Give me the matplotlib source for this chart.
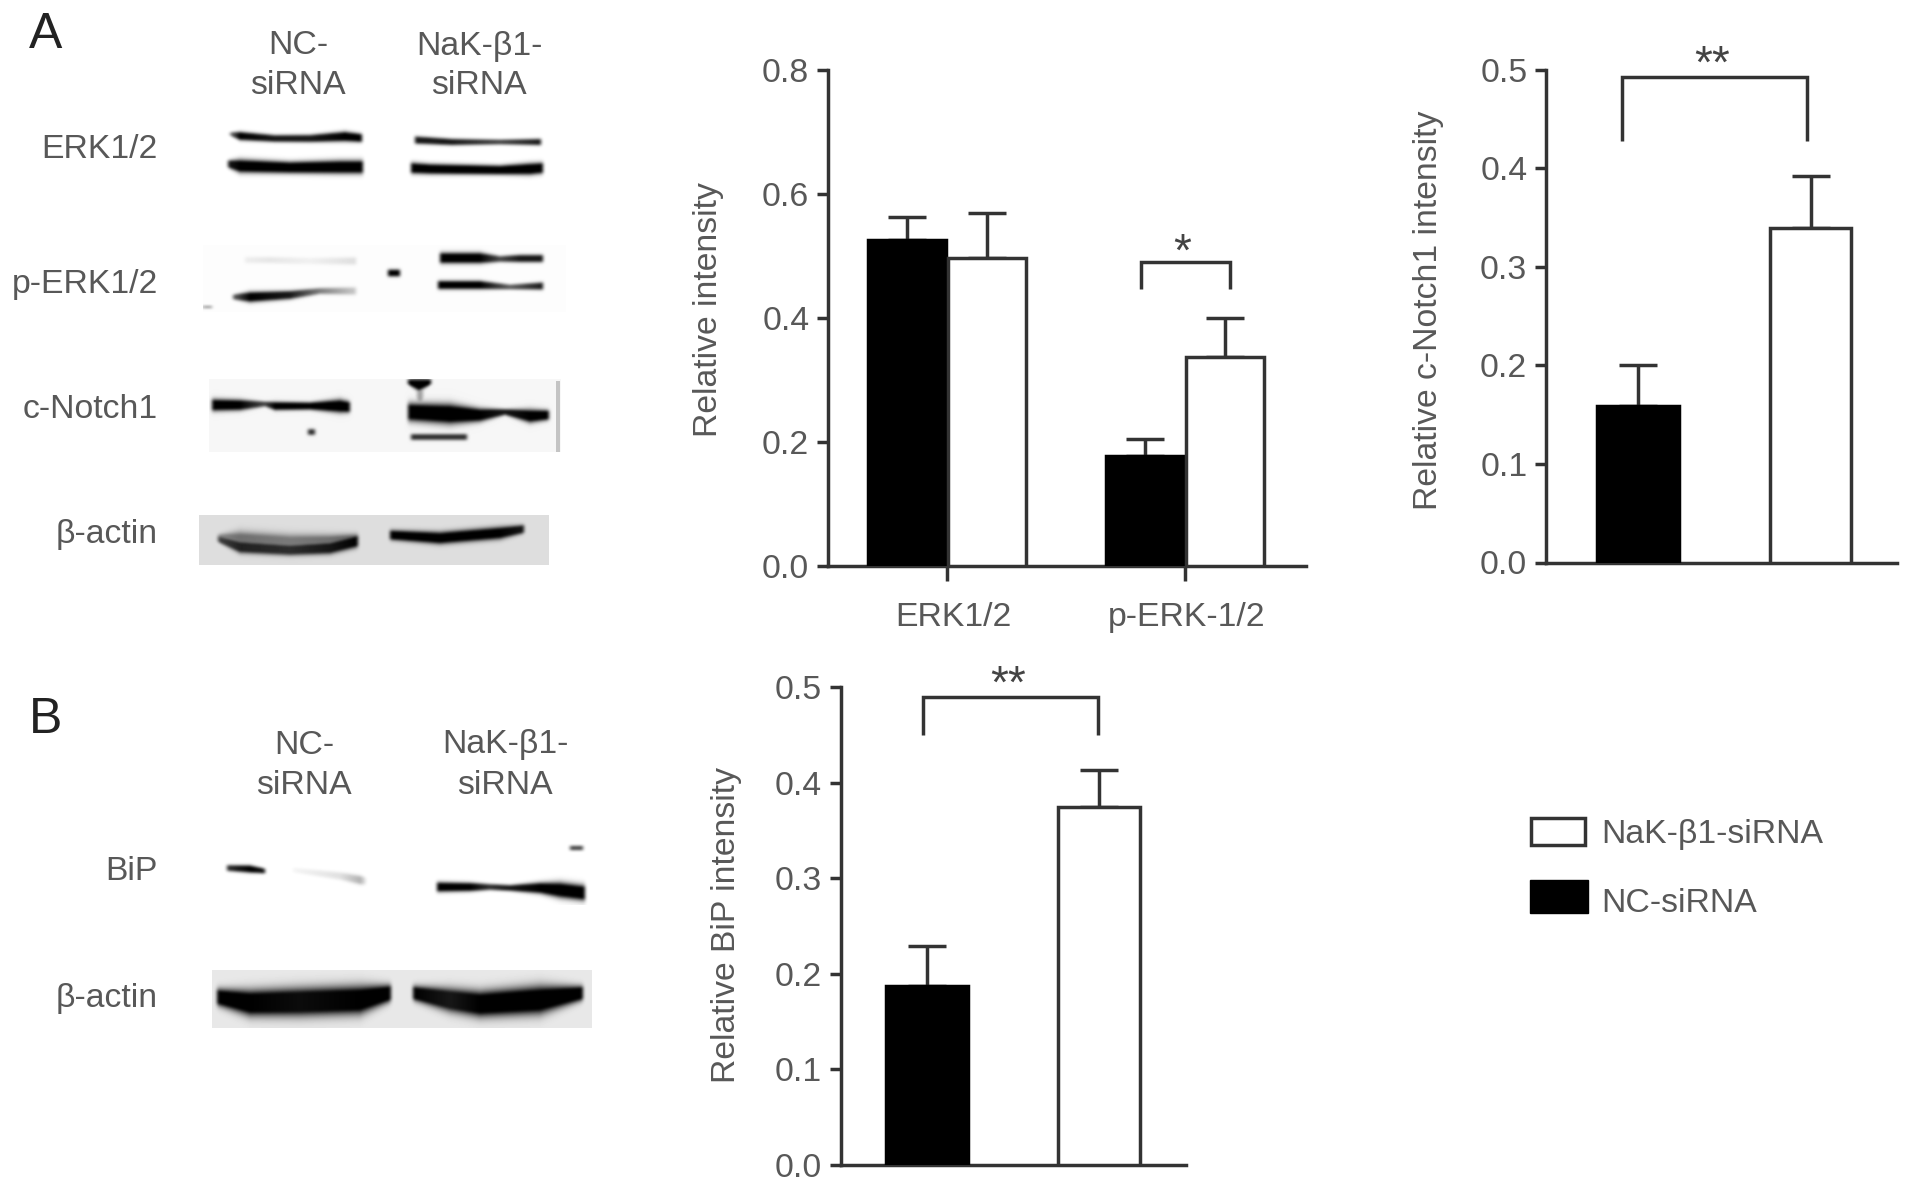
import matplotlib
matplotlib.use('Agg')
import matplotlib.pyplot as plt
import matplotlib.patches as mpatches
import matplotlib.transforms as mtransforms
import numpy as np

plt.rcParams['font.family'] = ['Liberation Sans', 'DejaVu Sans']

W, H = 1913, 1189
TEXT = '#585858'
LINE = '#333333'
FS = 24.3
LW = 2.5

# bar chart values
erk_labels = ['ERK1/2', 'p-ERK-1/2']
erk_nc = [0.526, 0.177]
erk_nc_err = [0.037, 0.028]
erk_nak = [0.496, 0.336]
erk_nak_err = [0.073, 0.063]

notch_values = [0.159, 0.339]
notch_err = [0.041, 0.053]

bip_values = [0.1875, 0.375]
bip_err = [0.042, 0.038]

# blot bands, one point is (x, y, half thickness, darkness) in reference pixels
erk_bands = [
    [(230, 134, 1.5, .5), (240, 136, 3.4, 1), (275, 138.5, 2.8, .9), (310, 138.5, 3, .9), (345, 136.5, 4, 1), (362, 138, 3.4, 1)],
    [(228, 164, 3, .9), (240, 166, 5.5, 1), (290, 167.5, 4.8, 1), (340, 167, 5.5, 1), (363, 167, 5.5, 1)],
    [(415, 140, 3, .9), (452, 142, 2.6, .9), (500, 142, 2, .7), (541, 142, 2.6, .9)],
    [(411, 168, 4.5, 1), (430, 169, 4.2, 1), (500, 170, 3.8, 1), (530, 169, 4.8, 1), (543, 168, 4.5, 1)],
]
perk_bands = [
    [(245, 260, 2.5, .06), (270, 260, 2.5, .09), (310, 261, 2.5, .05), (356, 261, 3, .12)],
    [(233, 297, 2, .6), (250, 297, 4.2, 1), (290, 295, 3.4, .9), (320, 291, 2.4, .5), (356, 291, 3, .2)],
    [(388, 273, 2.8, 1), (400, 273, 2.8, 1)],
    [(440, 258, 4.4, 1), (480, 258, 4.4, 1), (500, 259, 2.4, .7), (520, 258.5, 3, .9), (543, 258.5, 3, .9)],
    [(438, 285, 3.4, 1), (480, 285, 3.4, 1), (510, 287, 2, .6), (543, 286, 3, .9)],
    [(203, 307, 1, .4), (212, 307, 1, .4)],
]
notch_bands = [
    [(212, 405, 5, 1), (240, 405, 4.4, 1), (265, 404, 2, .7), (275, 406, 3.4, 1), (310, 406, 3, 1), (340, 406, 5.5, 1), (350, 407, 4.5, 1)],
    [(308, 432, 2.4, .8), (315, 432, 2.4, .8)],
    [(408, 412, 7.5, 1), (450, 414, 8.5, 1), (480, 415, 5.5, 1), (505, 412, 2.4, .9), (530, 416, 5.5, 1), (549, 415, 4, 1)],
    [(408, 382, 2, 1), (419, 385, 5, 1), (431, 382, 2, 1)],
    [(417, 394, 8, .35), (423, 394, 8, .35)],
    [(411, 437, 2.4, .8), (467, 437, 2.4, .8)],
]
actin_a_bands = [
    [(218, 538, 3, .4), (240, 541, 8, .5), (290, 544, 8, .45), (330, 543, 7, .5), (358, 540, 5, .6)],
    [(218, 539, 2.5, .7), (240, 547, 5, .85), (290, 550, 4.5, .8), (330, 548, 5, .9), (358, 541, 5, 1)],
    [(390, 535, 4, 1), (440, 538, 5, 1), (500, 533, 5, 1), (524, 529, 3.4, .9)],
]
bip_bands = [
    [(227, 868, 2.4, .8), (250, 869, 3, 1), (265, 871, 2, .9)],
    [(293, 870, 2, .04), (340, 876, 3, .12), (360, 880, 3.5, .3), (366, 881, 3, .1)],
    [(437, 887, 4, 1), (470, 887, 3.5, 1), (490, 887, 2.4, .8), (510, 888, 2.4, .9), (540, 888, 4.5, 1), (560, 890, 6.5, 1), (585, 893, 6.5, 1)],
    [(570, 848, 1.8, .7), (583, 848, 1.8, .7)],
]
actin_b_bands = [
    [(217, 997, 7, 1), (250, 1003, 11, 1), (300, 1002, 12, .95), (360, 1000, 12, 1), (391, 993, 7, 1)],
    [(413, 993, 6, 1), (450, 1000, 10, .9), (480, 1004, 11, 1), (540, 1000, 12, 1), (583, 993, 6, 1)],
]


def px_axes(fig, left, right, top, bottom):
    return fig.add_axes([left / W, 1 - bottom / H, (right - left) / W, (bottom - top) / H])


def style_axes(ax, ymax, step_count):
    for side in ['top', 'right']:
        ax.spines[side].set_visible(False)
    for side in ['left', 'bottom']:
        ax.spines[side].set_linewidth(LW)
        ax.spines[side].set_color(LINE)
    ax.set_ylim(0, ymax)
    ax.set_yticks(np.linspace(0, ymax, step_count))
    ax.set_yticklabels(['%.1f' % v for v in np.linspace(0, ymax, step_count)])
    ax.tick_params(axis='y', length=8, width=LW, color=LINE, pad=5.5, labelsize=FS, labelcolor=TEXT)


def draw_bars(ax, positions, values, errs, width, colors):
    for pos, val, err, col in zip(positions, values, errs, colors):
        ax.bar(pos, val, width=width, color=col, edgecolor='black' if col == 'black' else LINE, linewidth=LW, zorder=3)
        ax.errorbar(pos, val, yerr=[[0], [err]], color=LINE, elinewidth=LW, capsize=13.5, capthick=LW, zorder=2)


def draw_bracket(ax, x0, x1, y_low, y_top):
    ax.plot([x0, x0, x1, x1], [y_low, y_top, y_top, y_low], color=LINE, lw=LW, solid_joinstyle='miter', solid_capstyle='butt')


def soften(ink):
    # small blur, the scans in the reference are soft
    kernel = np.array([1, 2, 3, 2, 1]) / 9.0
    pad = np.pad(ink, 2, mode='edge')
    pad = np.apply_along_axis(lambda r: np.convolve(r, kernel, mode='same'), 0, pad)
    pad = np.apply_along_axis(lambda r: np.convolve(r, kernel, mode='same'), 1, pad)
    return pad[2:-2, 2:-2]


def draw_blot(ax, x0, x1, y0, y1, bg, bands):
    xs = np.arange(x0, x1) + 0.5
    ys = np.arange(y0, y1) + 0.5
    X, Y = np.meshgrid(xs, ys)
    ink = np.zeros_like(X)
    for band in bands:
        pts = np.array(band, dtype=float)
        yc = np.interp(X, pts[:, 0], pts[:, 1])
        hw = np.interp(X, pts[:, 0], pts[:, 2])
        dark = np.interp(X, pts[:, 0], pts[:, 3])
        taper = np.clip((X - pts[0, 0] + 2) / 4, 0, 1) * np.clip((pts[-1, 0] - X + 2) / 4, 0, 1)
        this = np.clip(1.8 * np.exp(-((Y - yc) / hw) ** 2), 0, 1) * dark * taper
        ink = np.maximum(ink, this)
    ink = soften(ink)
    ax.imshow(bg * (1 - ink), cmap='gray', vmin=0, vmax=1, extent=(x0, x1, y1, y0),
              interpolation='bilinear', aspect='auto', zorder=1)


figure = plt.figure(figsize=(W / 100, H / 100), dpi=100, facecolor='white')

# whole figure layer in reference pixels for the blots and their labels
page = figure.add_axes([0, 0, 1, 1])
page.axis('off')

draw_blot(page, 203, 566, 245, 312, 0.99, perk_bands)
draw_blot(page, 209, 561, 379, 452, 0.965, notch_bands)
page.add_patch(mpatches.Rectangle((556, 381), 4, 71, color='#c4c4c4', lw=0, zorder=2))
draw_blot(page, 199, 549, 515, 565, 0.87, actin_a_bands)
draw_blot(page, 222, 548, 122, 182, 1.0, erk_bands)
draw_blot(page, 222, 590, 840, 905, 1.0, bip_bands)
draw_blot(page, 212, 592, 970, 1028, 0.91, actin_b_bands)
page.set_xlim(0, W)
page.set_ylim(H, 0)

page.text(46, 35, 'A', fontsize=36, color='#222222', ha='center', va='center')
page.text(46, 720, 'B', fontsize=36, color='#222222', ha='center', va='center')

for y, label in [(149, 'ERK1/2'), (285, 'p-ERK1/2'), (409, 'c-Notch1'), (535, '\u03b2-actin'), (872, 'BiP'), (999, '\u03b2-actin')]:
    page.text(158, y, label, fontsize=FS, color=TEXT, ha='right', va='center')

for x, y, label in [(298, 46, 'NC-'), (298, 86, 'siRNA'), (479, 46, 'NaK-\u03b21-'), (479, 86, 'siRNA'),
                    (304, 745, 'NC-'), (304, 785, 'siRNA'), (505, 745, 'NaK-\u03b21-'), (505, 785, 'siRNA')]:
    page.text(x, y, label, fontsize=FS, color=TEXT, ha='center', va='center')

# legend
page.add_patch(mpatches.Rectangle((1531, 818), 54, 27, facecolor='white', edgecolor=LINE, lw=LW))
page.add_patch(mpatches.Rectangle((1530, 880), 58, 33, facecolor='black', edgecolor='black', lw=1))
page.text(1601, 835, 'NaK-\u03b21-siRNA', fontsize=FS, color=TEXT, ha='left', va='center')
page.text(1601, 904, 'NC-siRNA', fontsize=FS, color=TEXT, ha='left', va='center')

# stars and y axis titles
for x, y, label in [(1182, 243, '*'), (1712, 55, '**'), (1008, 675, '**')]:
    page.text(x, y + 22.5, label, fontsize=33, color='#444444', ha='center', va='baseline')
for x, y, label in [(708, 310, 'Relative intensity'), (1429, 310, 'Relative c-Notch1 intensity'), (727, 925, 'Relative BiP intensity')]:
    page.text(x, y, label, fontsize=FS, color=TEXT, rotation=90, ha='center', va='center')

# p/ERK chart
axes = px_axes(figure, 828, 1306, 69.5, 566)
axes.patch.set_alpha(0)
style_axes(axes, 0.8, 5)
spots = np.arange(len(erk_labels))
draw_bars(axes, spots - 0.168, erk_nc, erk_nc_err, 0.33, ['black', 'black'])
draw_bars(axes, spots + 0.168, erk_nak, erk_nak_err, 0.33, ['white', 'white'])
draw_bracket(axes, 0.814, 1.19, 0.447, 0.49)
axes.set_xlim(-0.5, 1.508)
axes.set_xticks(spots)
axes.set_xticklabels(erk_labels)
axes.tick_params(axis='x', length=11, width=LW, color=LINE, pad=15, labelsize=FS, labelcolor=TEXT)
for lab, shift in zip(axes.get_xticklabels(), [6, 2]):
    lab.set_transform(lab.get_transform() + mtransforms.ScaledTranslation(shift / 100, 0, figure.dpi_scale_trans))

# c-Notch1 chart
axes = px_axes(figure, 1546, 1897, 69.5, 562.5)
axes.patch.set_alpha(0)
style_axes(axes, 0.5, 6)
draw_bars(axes, [0, 1], notch_values, notch_err, 0.47, ['black', 'white'])
draw_bracket(axes, -0.09, 0.98, 0.427, 0.4924)
axes.set_xlim(-0.533, 1.5)
axes.set_xticks([])

# BiP chart
axes = px_axes(figure, 841, 1186, 687, 1165)
axes.patch.set_alpha(0)
style_axes(axes, 0.5, 6)
draw_bars(axes, [0, 1], bip_values, bip_err, 0.475, ['black', 'white'])
draw_bracket(axes, -0.023, 0.994, 0.45, 0.49)
axes.set_xlim(-0.5, 1.506)
axes.set_xticks([])

figure.savefig('out.png', dpi=100)
